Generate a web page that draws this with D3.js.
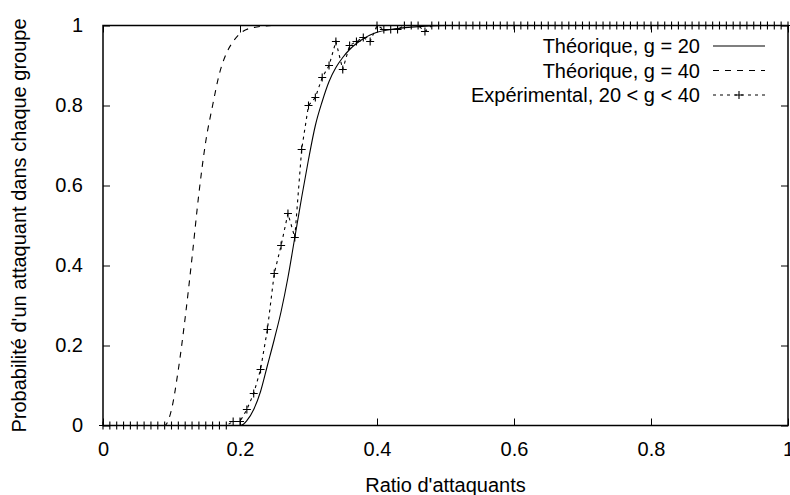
<!DOCTYPE html>
<html>
<head>
<meta charset="utf-8">
<script src="https://cdn.jsdelivr.net/npm/d3@7"></script>
<style>
  body { margin: 0; background: #fff; }
  svg { display: block; font-family: "Liberation Sans", Arial, sans-serif; }
</style>
</head>
<body>
<div id="graph"></div>
<script>
// theoretical curve, g = 20
const th20Ratio = [0, 0.20, 0.205, 0.21, 0.22, 0.23, 0.24, 0.25, 0.26, 0.27, 0.28, 0.29, 0.30, 0.31, 0.32, 0.33, 0.34, 0.35, 0.36, 0.37, 0.38, 0.39, 0.40, 0.42, 0.45, 0.50, 1.0]
const th20Prob = [0, 0, 0.003, 0.012, 0.04, 0.085, 0.15, 0.215, 0.285, 0.37, 0.47, 0.57, 0.665, 0.75, 0.81, 0.86, 0.895, 0.92, 0.94, 0.955, 0.967, 0.976, 0.983, 0.99, 0.996, 1, 1]

// theoretical curve, g = 40
const th40Ratio = [0, 0.09, 0.10, 0.11, 0.12, 0.13, 0.14, 0.15, 0.16, 0.17, 0.18, 0.19, 0.20, 0.22, 0.25, 1.0]
const th40Prob = [0, 0, 0.04, 0.14, 0.27, 0.42, 0.58, 0.71, 0.80, 0.88, 0.93, 0.96, 0.98, 0.995, 1, 1]

// experimental, 20 < g < 40
const expRatio = [
  0.00, 0.01, 0.02, 0.03, 0.04, 0.05, 0.06, 0.07, 0.08, 0.09,
  0.10, 0.11, 0.12, 0.13, 0.14, 0.15, 0.16, 0.17, 0.18, 0.19,
  0.20, 0.21, 0.22, 0.23, 0.24, 0.25, 0.26, 0.27, 0.28, 0.29,
  0.30, 0.31, 0.32, 0.33, 0.34, 0.35, 0.36, 0.37, 0.38, 0.39,
  0.40, 0.41, 0.42, 0.43, 0.44, 0.45, 0.46, 0.47, 0.48, 0.49,
  0.50, 0.51, 0.52, 0.53, 0.54, 0.55, 0.56, 0.57, 0.58, 0.59,
  0.60, 0.61, 0.62, 0.63, 0.64, 0.65, 0.66, 0.67, 0.68, 0.69,
  0.70, 0.71, 0.72, 0.73, 0.74, 0.75, 0.76, 0.77, 0.78, 0.79,
  0.80, 0.81, 0.82, 0.83, 0.84, 0.85, 0.86, 0.87, 0.88, 0.89,
  0.90, 0.91, 0.92, 0.93, 0.94, 0.95, 0.96, 0.97, 0.98, 0.99,
  1.00]
const expProb = [
  0, 0, 0, 0, 0, 0, 0, 0, 0, 0,
  0, 0, 0, 0, 0, 0, 0, 0, 0, 0.01,
  0.01, 0.04, 0.08, 0.14, 0.24, 0.38, 0.45, 0.53, 0.47, 0.69,
  0.80, 0.82, 0.87, 0.90, 0.96, 0.89, 0.95, 0.96, 0.97, 0.96,
  1, 0.99, 0.99, 0.99, 1, 1, 1, 0.985, 1, 1,
  1, 1, 1, 1, 1, 1, 1, 1, 1, 1,
  1, 1, 1, 1, 1, 1, 1, 1, 1, 1,
  1, 1, 1, 1, 1, 1, 1, 1, 1, 1,
  1, 1, 1, 1, 1, 1, 1, 1, 1, 1,
  1, 1, 1, 1, 1, 1, 1, 1, 1, 1,
  1]

const xTicks = [0, 0.2, 0.4, 0.6, 0.8, 1]
const yTicks = [0, 0.2, 0.4, 0.6, 0.8, 1]
const legendLabels = ['Théorique, g = 20', 'Théorique, g = 40', 'Expérimental, 20 < g < 40']

const width = 790
const height = 495
const plotLeft = 103, plotRight = 788, plotTop = 25.5, plotBottom = 425.5
const fontSize = 20
const tickLen = 7

const svg = d3.select('#graph')
  .append('svg')
  .attr('width', width)
  .attr('height', height)

const xScale = d3.scaleLinear().domain([0, 1]).range([plotLeft, plotRight])
const yScale = d3.scaleLinear().domain([0, 1]).range([plotBottom, plotTop])
const fmt = d => d === 0 || d === 1 ? d3.format('d')(d) : d3.format('.1f')(d)

// ticks, mirrored on all four sides, pointing inward
const styleAxis = g => {
  g.select('.domain').remove()
  g.selectAll('.tick line').attr('stroke', '#000').attr('stroke-width', 1)
  g.selectAll('.tick text').attr('fill', '#000').style('font-size', fontSize + 'px').style('font-family', '"Liberation Sans", Arial, sans-serif')
}

svg.append('g')
  .attr('transform', `translate(0,${plotBottom})`)
  .call(d3.axisBottom(xScale).tickValues(xTicks).tickFormat(fmt).tickSizeInner(-tickLen).tickSizeOuter(0).tickPadding(16))
  .call(styleAxis)

svg.append('g')
  .attr('transform', `translate(0,${plotTop})`)
  .call(d3.axisTop(xScale).tickValues(xTicks).tickFormat('').tickSizeInner(-tickLen).tickSizeOuter(0))
  .call(styleAxis)

svg.append('g')
  .attr('transform', `translate(${plotLeft},0)`)
  .call(d3.axisLeft(yScale).tickValues(yTicks).tickFormat(fmt).tickSizeInner(-tickLen).tickSizeOuter(0).tickPadding(20))
  .call(styleAxis)

svg.append('g')
  .attr('transform', `translate(${plotRight},0)`)
  .call(d3.axisRight(yScale).tickValues(yTicks).tickFormat('').tickSizeInner(-tickLen).tickSizeOuter(0))
  .call(styleAxis)

// curves
const th20 = th20Ratio.map((r, i) => [r, th20Prob[i]])
const th40 = th40Ratio.map((r, i) => [r, th40Prob[i]])
const exp = expRatio.map((r, i) => [r, expProb[i]])

const smooth = d3.line().x(d => xScale(d[0])).y(d => yScale(d[1])).curve(d3.curveMonotoneX)
const straight = d3.line().x(d => xScale(d[0])).y(d => yScale(d[1]))

svg.append('path')
  .attr('d', smooth(th20))
  .attr('fill', 'none')
  .attr('stroke', '#000')
  .attr('stroke-width', 1.1)

svg.append('path')
  .attr('d', smooth(th40))
  .attr('fill', 'none')
  .attr('stroke', '#000')
  .attr('stroke-width', 1.1)
  .attr('stroke-dasharray', '6,6')

svg.append('path')
  .attr('d', straight(exp))
  .attr('fill', 'none')
  .attr('stroke', '#000')
  .attr('stroke-width', 1.1)
  .attr('stroke-dasharray', '3,4')

const plusPath = (cx, cy, s) => `M${cx - s},${cy}H${cx + s}M${cx},${cy - s}V${cy + s}`

svg.append('g')
  .selectAll('path')
  .data(exp)
  .enter()
  .append('path')
  .attr('d', d => plusPath(xScale(d[0]), yScale(d[1]), 4))
  .attr('stroke', '#000')
  .attr('stroke-width', 1.1)
  .attr('fill', 'none')

// frame
svg.append('rect')
  .attr('x', plotLeft)
  .attr('y', plotTop)
  .attr('width', plotRight - plotLeft)
  .attr('height', plotBottom - plotTop)
  .attr('fill', 'none')
  .attr('stroke', '#000')
  .attr('stroke-width', 1.5)

// axis titles
svg.append('text')
  .attr('x', (plotLeft + plotRight) / 2)
  .attr('y', 492)
  .attr('text-anchor', 'middle')
  .style('font-size', fontSize + 'px')
  .text("Ratio d'attaquants")

svg.append('text')
  .attr('transform', `translate(26,${(plotTop + plotBottom) / 2}) rotate(-90)`)
  .attr('text-anchor', 'middle')
  .style('font-size', fontSize + 'px')
  .text("Probabilité d'un attaquant dans chaque groupe")

// legend
const dashes = [null, '6,6', '3,4']
const legend = svg.append('g').attr('id', 'legend')
legendLabels.forEach((label, i) => {
  const cy = 46 + i * 24.5
  legend.append('text')
    .attr('x', 700)
    .attr('y', cy)
    .attr('dy', '0.35em')
    .attr('text-anchor', 'end')
    .style('font-size', fontSize + 'px')
    .text(label)
  legend.append('line')
    .attr('x1', 713)
    .attr('x2', 765)
    .attr('y1', cy)
    .attr('y2', cy)
    .attr('stroke', '#000')
    .attr('stroke-width', 1.1)
    .attr('stroke-dasharray', dashes[i])
  if (i === 2) {
    legend.append('path')
      .attr('d', plusPath(739, cy, 4))
      .attr('stroke', '#000')
      .attr('stroke-width', 1.1)
  }
})
</script>
</body>
</html>
